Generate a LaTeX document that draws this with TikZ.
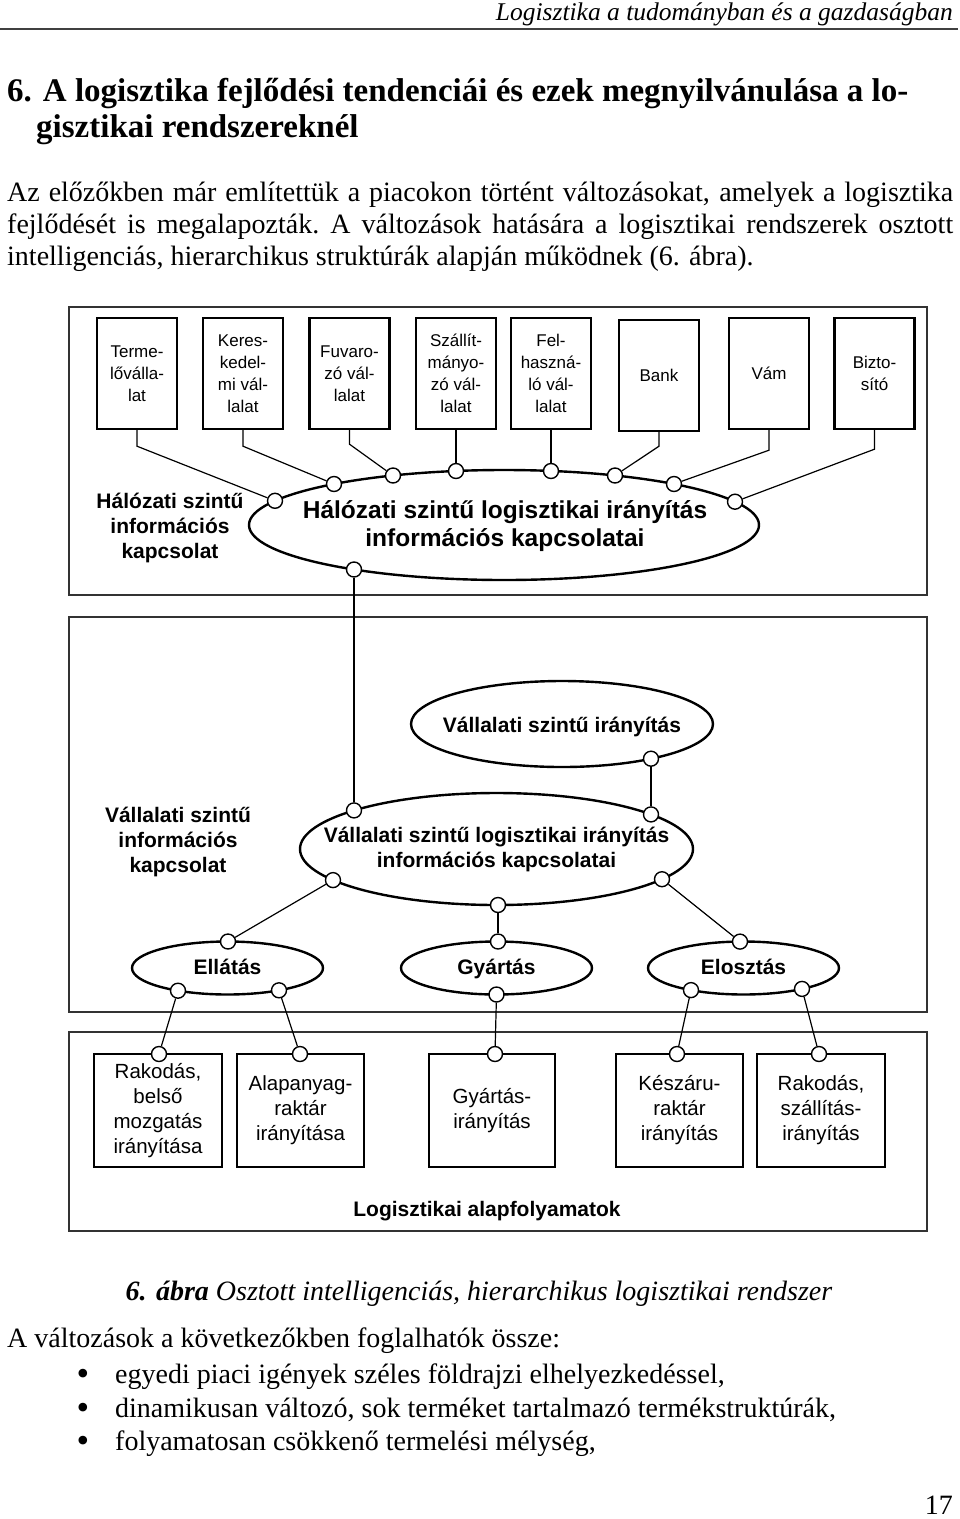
\documentclass[tikz,border=0pt]{standalone}
\usepackage{fontspec}
\setmainfont{Liberation Serif}
\newfontfamily\arialf{Liberation Sans}
\usetikzlibrary{shapes.geometric}
\begin{document}
\begin{tikzpicture}[x=1pt,y=-1pt,
  txt/.style={inner sep=0pt, anchor=base west},
  body/.style={txt, font=\fontsize{28}{32}\selectfont},
  frame/.style={draw=black!80, line width=1.6pt},
  topbox/.style={draw, line width=2.4pt, minimum width=80pt, minimum height=111pt, inner sep=0pt, font=\arialf\fontsize{17}{22}\selectfont, align=center},
  lowbox/.style={draw, line width=2.4pt, minimum height=113pt, inner sep=0pt, font=\arialf\fontsize{20.5}{25}\selectfont, align=center},
  ell/.style={ellipse, draw, line width=2.4pt, inner sep=0pt},
  port/.style={circle, draw, line width=1.4pt, fill=white, minimum size=15pt, inner sep=0pt},
  conn/.style={line width=1.2pt},
  blab/.style={font=\arialf\bfseries\fontsize{21}{25}\selectfont, align=center, inner sep=0pt},
]
\fill[white] (0,0) rectangle (960,1519);
\useasboundingbox (0,0) rectangle (960,1519);

% ---------- header ----------
\node[txt, anchor=base east, font=\itshape\fontsize{25.5}{30}\selectfont] (hdr) at (953,20) {Logisztika a tudományban és a gazdaságban};
\draw[line width=2pt, black!75] (0,29) -- (958,29);

% ---------- heading ----------
\node[txt, font=\bfseries\fontsize{33}{36}\selectfont] (h1) at (7,101) {6. A logisztika fejlődési tendenciái és ezek megnyilvánulása a lo-};
\node[txt, font=\bfseries\fontsize{33}{36}\selectfont] (h2) at (36,137) {gisztikai rendszereknél};

% ---------- body ----------
\node[body] (p1) at (7,201) {\makebox[946pt][s]{Az előzőkben már említettük a piacokon történt változásokat, amelyek a logisztika}};
\node[body] (p2) at (7,233) {\makebox[946pt][s]{fejlődését is megalapozták.\hspace{0.4em}A változások hatására a logisztikai rendszerek osztott}};
\node[body] (p3) at (7,265) {intelligenciás, hierarchikus struktúrák alapján működnek (6. ábra).};

% ---------- frames ----------
\draw[frame] (69,307) rectangle (927,595);
\draw[frame] (69,617) rectangle (927,1012);
\draw[frame] (69,1032) rectangle (927,1231);

% ---------- top boxes ----------
\node[topbox] (t1) at (137,373.5) {Terme-\\lőválla-\\lat};
\node[topbox] (t2) at (243,373.5) {Keres-\\kedel-\\mi vál-\\lalat};
\node[topbox] (t3) at (349.5,373.5) {Fuvaro-\\zó vál-\\lalat};
\node[topbox] (t4) at (456,373.5) {Szállít-\\mányo-\\zó vál-\\lalat};
\node[topbox] (t5) at (551,373.5) {Fel-\\haszná-\\ló vál-\\lalat};
\node[topbox] (t6) at (659,375.5) {Bank};
\node[topbox] (t7) at (769,373.5) {Vám};
\node[topbox] (t8) at (874.5,373.5) {Bizto-\\sító};

% ---------- network ellipse ----------
\node[ell, minimum width=510pt, minimum height=110pt] (net) at (504,525) {};
\node[font=\arialf\bfseries\fontsize{24.5}{28}\selectfont, align=center, inner sep=0pt] (nett) at (505,526) {Hálózati szintű logisztikai irányítás\\információs kapcsolatai};
\node[blab] (netl) at (170,528) {Hálózati szintű\\információs\\kapcsolat};

\node[port] (n1) at (275,500.8) {};
\node[port] (n2) at (334,484) {};
\node[port] (n3) at (393,475.5) {};
\node[port] (n4) at (456,471) {};
\node[port] (n5) at (551,471) {};
\node[port] (n6) at (615,475.5) {};
\node[port] (n7) at (674,484) {};
\node[port] (n8) at (735,501.7) {};
\node[port] (n9) at (354,569.5) {};

\draw[conn] (t1.south) -- ++(0,16) -- (n1);
\draw[conn] (t2.south) -- ++(0,16) -- (n2);
\draw[conn] (t3.south) -- ++(0,14) -- (n3);
\draw[conn] (t4.south) -- (n4);
\draw[conn] (t5.south) -- (n5);
\draw[conn] (t6.south) -- ++(0,14) -- (n6);
\draw[conn] (t7.south) -- ++(0,20) -- (n7);
\draw[conn] (t8.south) -- ++(0,19) -- (n8);

% ---------- company level ----------
\node[ell, minimum width=302pt, minimum height=86pt] (ce1) at (562,724) {};
\node[blab, anchor=base] (ce1t) at (562,732) {Vállalati szintű irányítás};
\node[ell, minimum width=393pt, minimum height=112pt] (ce2) at (496.5,849) {};
\node[blab] (ce2t) at (496.5,849.5) {Vállalati szintű logisztikai irányítás\\információs kapcsolatai};
\node[blab] (cel) at (178,842) {Vállalati szintű\\információs\\kapcsolat};

\node[ell, minimum width=191pt, minimum height=53pt] (s1) at (227.5,968) {};
\node[ell, minimum width=191pt, minimum height=53pt] (s2) at (496.5,968) {};
\node[ell, minimum width=191pt, minimum height=53pt] (s3) at (743.5,968) {};
\node[blab, anchor=base] (s1t) at (227.5,974.5) {Ellátás};
\node[blab, anchor=base] (s2t) at (496.5,974.5) {Gyártás};
\node[blab, anchor=base] (s3t) at (743.5,974.5) {Elosztás};

% ---------- bottom boxes ----------
\node[lowbox, minimum width=128pt] (b1) at (158,1110.5) {Rakodás,\\belső\\mozgatás\\irányítása};
\node[lowbox, minimum width=127pt] (b2) at (300.5,1110.5) {Alapanyag-\\raktár\\irányítása};
\node[lowbox, minimum width=126pt] (b3) at (492,1110.5) {Gyártás-\\irányítás};
\node[lowbox, minimum width=127pt] (b4) at (679.5,1110.5) {Készáru-\\raktár\\irányítás};
\node[lowbox, minimum width=128pt] (b5) at (821,1110.5) {Rakodás,\\szállítás-\\irányítás};
\node[blab] (alap) at (487,1211) {Logisztikai alapfolyamatok};

% ---------- ports ----------
\node[port] (c1) at (651,758.7) {};
\node[port] (c2) at (354,810.4) {};
\node[port] (c3) at (651,814.4) {};
\node[port] (c4) at (333,880.1) {};
\node[port] (c5) at (498,905) {};
\node[port] (c6) at (662,879.2) {};
\node[port] (d1) at (228,941.5) {};
\node[port] (d2) at (498,941.5) {};
\node[port] (d3) at (740,941.6) {};
\node[port] (e1) at (178,990.7) {};
\node[port] (e2) at (279,990.3) {};
\node[port] (e3) at (496.5,994.5) {};
\node[port] (e4) at (691,990.1) {};
\node[port] (e5) at (802,988.9) {};
\node[port] (f1) at (159,1054) {};
\node[port] (f2) at (300,1054) {};
\node[port] (f3) at (495,1054) {};
\node[port] (f4) at (677,1054) {};
\node[port] (f5) at (819,1054) {};

\draw[conn] (n9) -- (c2);
\draw[conn] (c1) -- (c3);
\draw[conn] (c4) -- (d1);
\draw[conn] (c5) -- (d2);
\draw[conn] (c6) -- (d3);
\draw[conn] (e1) -- (f1);
\draw[conn] (e2) -- (f2);
\draw[conn] (e3) -- (f3);
\draw[conn] (e4) -- (f4);
\draw[conn] (e5) -- (f5);

% ---------- caption and list ----------
\node[txt, anchor=base, font=\fontsize{28}{32}\selectfont] (cap) at (479,1300) {{\bfseries\itshape 6. ábra} \textit{Osztott intelligenciás, hierarchikus logisztikai rendszer}};
\node[body] (q0) at (7,1347) {A változások a következőkben foglalhatók össze:};
\node[body, anchor=base, font=\fontsize{36}{36}\selectfont] (bu1) at (83,1385) {\textbullet};
\node[body] (q1) at (115,1383) {egyedi piaci igények széles földrajzi elhelyezkedéssel,};
\node[body, anchor=base, font=\fontsize{36}{36}\selectfont] (bu2) at (83,1419) {\textbullet};
\node[body] (q2) at (115,1417) {dinamikusan változó, sok terméket tartalmazó termékstruktúrák,};
\node[body, anchor=base, font=\fontsize{36}{36}\selectfont] (bu3) at (83,1452) {\textbullet};
\node[body] (q3) at (115,1450) {folyamatosan csökkenő termelési mélység,};
\node[body, anchor=base east] (pg) at (953,1514) {17};
\end{tikzpicture}
\end{document}
